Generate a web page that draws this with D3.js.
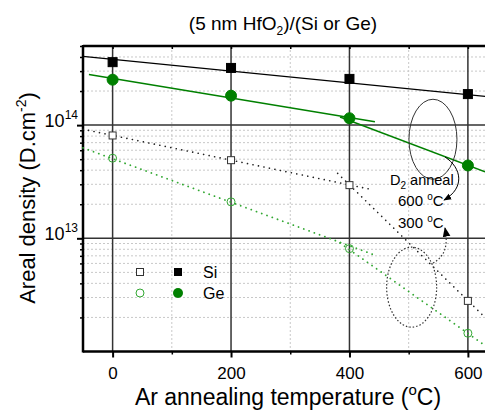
<!DOCTYPE html>
<html>
<head>
<meta charset="utf-8">
<script src="https://cdn.jsdelivr.net/npm/d3@7"></script>
<style>
  body { margin: 0; background: #fff; }
  text { font-family: Arial, "Liberation Sans", sans-serif; }
</style>
</head>
<body>
<svg id="chart" width="485" height="410"></svg>
<script>
let temps = [0, 200, 400, 600];
let siFilled = [3.6e14, 3.2e14, 2.56e14, 1.88e14];
let geFilled = [2.52e14, 1.82e14, 1.15e14, 4.4e13];
let siOpen = [8.1e13, 4.9e13, 2.95e13, 2.8e12];
let geOpen = [5.1e13, 2.1e13, 8.1e12, 1.45e12];

// fitted guide lines [x, value] pairs
let siLine = [[-50, 4.05e14], [650, 1.75e14]];
let geLine1 = [[-40, 2.8e14], [443, 1.07e14]];
let geLine2 = [[384, 1.18e14], [629, 3.86e13]];
let siDot1 = [[-50, 9.2e13], [440, 2.68e13]];
let siDot2 = [[380, 3.75e13], [629, 2.0e12]];
let geDot1 = [[-50, 6.3e13], [440, 7.2e12]];
let geDot2 = [[384, 9.1e12], [629, 1.13e12]];

let xTicks = [0, 200, 400, 600];
let xMinor = [100, 300, 500];
let yMajor = [1e13, 1e14];

const green = '#008000';
const lightGreen = '#33a833';

const svg = d3.select('#chart');
const pLeft = 83, pTop = 46, pBottom = 351.5, pRight = 497.5;

const x = d3.scaleLinear().domain([-50, 650]).range([pLeft, pRight]);
const y = d3.scaleLog().domain([1e12, 5e14]).range([pBottom, pTop]);

// minor log values
let yMinor = [];
[1e12, 1e13, 1e14].forEach(d => {
	for (let k = 2; k <= 9; k++) {
		if (d * k <= 5e14) yMinor.push(d * k);
	}
});

// grid
svg.append('g').selectAll('line').data(yMinor).join('line')
	.attr('x1', pLeft).attr('x2', pRight)
	.attr('y1', d => y(d)).attr('y2', d => y(d))
	.attr('stroke', '#c8c8c8').attr('stroke-width', 1).attr('stroke-dasharray', '2,2');
svg.append('g').selectAll('line').data(xMinor).join('line')
	.attr('x1', d => x(d)).attr('x2', d => x(d))
	.attr('y1', pTop).attr('y2', pBottom)
	.attr('stroke', '#c8c8c8').attr('stroke-width', 1).attr('stroke-dasharray', '2,2');
svg.append('g').selectAll('line').data(yMajor).join('line')
	.attr('x1', pLeft).attr('x2', pRight)
	.attr('y1', d => y(d)).attr('y2', d => y(d))
	.attr('stroke', '#333').attr('stroke-width', 1.5);
svg.append('g').selectAll('line').data(xTicks).join('line')
	.attr('x1', d => x(d)).attr('x2', d => x(d))
	.attr('y1', pTop).attr('y2', pBottom)
	.attr('stroke', '#333').attr('stroke-width', 1.5);

// axes
const xAxis = d3.axisBottom(x).tickValues(xTicks).tickSize(6).tickFormat(d3.format('d'));
const gx = svg.append('g').attr('transform', `translate(0,${pBottom})`).call(xAxis);
gx.select('.domain').remove();
gx.selectAll('.tick line').attr('stroke', '#000').attr('stroke-width', 2);
gx.selectAll('.tick text').attr('font-size', 17).attr('fill', '#000').attr('dy', '1.1em')
	.style('font-family', 'Arial, "Liberation Sans", sans-serif');
svg.append('g').attr('transform', `translate(0,${pBottom})`)
	.call(d3.axisBottom(x).tickValues(xMinor).tickSize(3).tickFormat(''))
	.call(g => g.select('.domain').remove())
	.selectAll('line').attr('stroke-width', 1.5);

// top ticks (inward)
svg.append('g').attr('transform', `translate(0,${pTop})`)
	.call(d3.axisTop(x).tickValues(xTicks.concat(xMinor)).tickSize(-3).tickFormat(''))
	.call(g => g.select('.domain').remove())
	.selectAll('line').attr('stroke-width', 1.5);

// left axis ticks
svg.append('g').attr('transform', `translate(${pLeft},0)`)
	.call(d3.axisLeft(y).tickValues(yMinor).tickSize(3).tickFormat(''))
	.call(g => g.select('.domain').remove())
	.selectAll('line').attr('stroke-width', 1.5);
svg.append('g').attr('transform', `translate(${pLeft},0)`)
	.call(d3.axisLeft(y).tickValues(yMajor).tickSize(6).tickFormat(''))
	.call(g => g.select('.domain').remove())
	.selectAll('line').attr('stroke-width', 2);

// y tick labels 10^n
yMajor.forEach(d => {
	const t = svg.append('text').attr('x', pLeft - 5).attr('y', y(d) + 2)
		.attr('text-anchor', 'end').attr('font-size', 18);
	t.append('tspan').text('10');
	t.append('tspan').attr('dy', -8).attr('font-size', 12).text(Math.round(Math.log10(d)));
});

// frame
svg.append('line').attr('x1', pLeft).attr('x2', pLeft).attr('y1', pTop - 1).attr('y2', pBottom + 1)
	.attr('stroke', '#000').attr('stroke-width', 2.5);
svg.append('line').attr('x1', pLeft).attr('x2', pRight).attr('y1', pBottom).attr('y2', pBottom)
	.attr('stroke', '#000').attr('stroke-width', 2.5);
svg.append('line').attr('x1', pLeft).attr('x2', pRight).attr('y1', pTop).attr('y2', pTop)
	.attr('stroke', '#000').attr('stroke-width', 2.5);

// guide lines
const lineGen = d3.line().x(d => x(d[0])).y(d => y(d[1]));
function addLine(pts, color, width, dash) {
	svg.append('path').attr('d', lineGen(pts)).attr('fill', 'none')
		.attr('stroke', color).attr('stroke-width', width)
		.attr('stroke-dasharray', dash)
		.attr('stroke-linecap', dash ? 'round' : 'butt');
}
addLine(siLine, '#000', 1.3, null);
addLine(geLine1, green, 1.5, null);
addLine(geLine2, green, 1.5, null);
addLine(siDot1, '#222', 1.6, '0.1,5.5');
addLine(siDot2, '#222', 1.6, '0.1,5.5');
addLine(geDot1, lightGreen, 1.8, '0.1,5.5');
addLine(geDot2, lightGreen, 1.8, '0.1,5.5');

// markers
function squares(vals, fill, stroke, size) {
	svg.append('g').selectAll('rect').data(vals).join('rect')
		.attr('x', (d, i) => x(temps[i]) - size / 2)
		.attr('y', d => y(d) - size / 2)
		.attr('width', size).attr('height', size)
		.attr('fill', fill).attr('stroke', stroke).attr('stroke-width', 1);
}
function circles(vals, fill, stroke, r) {
	svg.append('g').selectAll('circle').data(vals).join('circle')
		.attr('cx', (d, i) => x(temps[i]))
		.attr('cy', d => y(d))
		.attr('r', r)
		.attr('fill', fill).attr('stroke', stroke).attr('stroke-width', 1);
}
squares(siOpen, '#fff', '#333', 7);
circles(geOpen, 'none', lightGreen, 4);
squares(siFilled, '#000', '#000', 9);
circles(geFilled, green, green, 5.5);

// ellipses and arrows (annotation)
svg.append('ellipse').attr('cx', x(541)).attr('cy', y(7.5e13)).attr('rx', 24).attr('ry', 40)
	.attr('fill', 'none').attr('stroke', '#333').attr('stroke-width', 1);
svg.append('ellipse').attr('cx', x(505)).attr('cy', y(3.7e12)).attr('rx', 25).attr('ry', 40)
	.attr('fill', 'none').attr('stroke', '#333').attr('stroke-width', 1.2).attr('stroke-dasharray', '1.5,2');

svg.append('defs').append('marker').attr('id', 'arrow').attr('viewBox', '0 0 10 10')
	.attr('refX', 9).attr('refY', 5).attr('markerWidth', 8).attr('markerHeight', 8)
	.attr('orient', 'auto-start-reverse')
	.append('path').attr('d', 'M0,1L10,5L0,9Z').attr('fill', '#000');

svg.append('path').attr('d', 'M445,157 C462,168 465,188 444,200')
	.attr('fill', 'none').attr('stroke', '#000').attr('stroke-width', 1).attr('marker-end', 'url(#arrow)');
svg.append('path').attr('d', 'M433,263 C446,256 448,244 445,228')
	.attr('fill', 'none').attr('stroke', '#333').attr('stroke-width', 1.2)
	.attr('stroke-dasharray', '1.5,2').attr('marker-end', 'url(#arrow)');

// annotation text
const d2 = svg.append('text').attr('x', 390).attr('y', 185).attr('font-size', 14.5);
d2.append('tspan').text('D');
d2.append('tspan').attr('dy', 4).attr('font-size', 10).text('2');
d2.append('tspan').attr('dy', -4).text(' anneal');
[['600', 206], ['300', 228]].forEach(a => {
	const t = svg.append('text').attr('x', 398).attr('y', a[1]).attr('font-size', 15);
	t.append('tspan').text(a[0] + ' ');
	t.append('tspan').attr('dy', -6).attr('font-size', 10).text('o');
	t.append('tspan').attr('dy', 6).text('C');
});

// legend
const legRows = [
	{ label: 'Si', y: 272, open: 'sq', openC: '#333', fill: '#000' },
	{ label: 'Ge', y: 293, open: 'ci', openC: lightGreen, fill: green }
];
legRows.forEach(r => {
	if (r.open == 'sq') {
		svg.append('rect').attr('x', 136.5).attr('y', r.y - 3.5).attr('width', 7).attr('height', 7)
			.attr('fill', '#fff').attr('stroke', r.openC);
		svg.append('rect').attr('x', 174).attr('y', r.y - 4).attr('width', 8).attr('height', 8)
			.attr('fill', r.fill);
	} else {
		svg.append('circle').attr('cx', 140).attr('cy', r.y).attr('r', 4)
			.attr('fill', 'none').attr('stroke', r.openC);
		svg.append('circle').attr('cx', 178).attr('cy', r.y).attr('r', 5)
			.attr('fill', r.fill);
	}
	svg.append('text').attr('x', 203).attr('y', r.y + 6).attr('font-size', 16).text(r.label);
});

// title
const title = svg.append('text').attr('x', 283).attr('y', 30).attr('text-anchor', 'middle').attr('font-size', 19);
title.append('tspan').text('(5 nm HfO');
title.append('tspan').attr('dy', 5).attr('font-size', 12).text('2');
title.append('tspan').attr('dy', -5).text(')/(Si or Ge)');

// axis titles
const xt = svg.append('text').attr('x', 288).attr('y', 405).attr('text-anchor', 'middle').attr('font-size', 23);
xt.append('tspan').text('Ar annealing temperature (');
xt.append('tspan').attr('dy', -10).attr('font-size', 15).text('o');
xt.append('tspan').attr('dy', 10).text('C)');

const yt = svg.append('text').attr('transform', 'translate(35,198) rotate(-90)')
	.attr('text-anchor', 'middle').attr('font-size', 22);
yt.append('tspan').text('Areal density (D.cm');
yt.append('tspan').attr('dy', -9).attr('font-size', 14).text('-2');
yt.append('tspan').attr('dy', 9).text(')');
</script>
</body>
</html>
